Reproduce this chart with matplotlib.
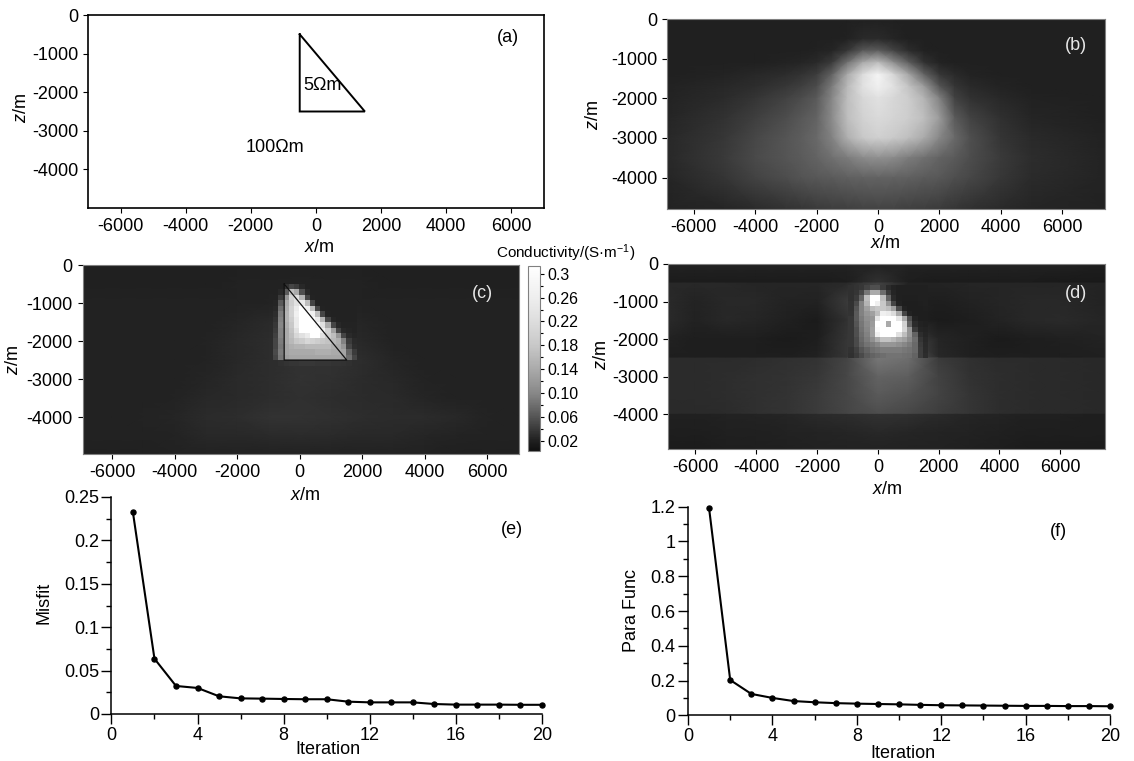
# plot.py
# Six panel figure: resistivity model, inverted conductivity sections, convergence curves.

import numpy as np
import matplotlib
matplotlib.use("Agg")
import matplotlib.pyplot as plt
from matplotlib.cm import ScalarMappable
from matplotlib.colors import LinearSegmentedColormap, Normalize

WIDTH, HEIGHT = 1134, 761

plt.rcParams["font.family"] = ["Liberation Sans", "DejaVu Sans"]
plt.rcParams["font.size"] = 13
plt.rcParams["axes.unicode_minus"] = False
plt.rcParams["mathtext.fontset"] = "custom"
plt.rcParams["mathtext.it"] = "Liberation Sans:italic"
plt.rcParams["mathtext.rm"] = "Liberation Sans"

# Convergence curves
iterations = list(range(1, 21))
misfit = [0.2323, 0.0637, 0.0323, 0.0300, 0.0204, 0.0180, 0.0177, 0.0173, 0.0170, 0.0170,
          0.0142, 0.0134, 0.0134, 0.0134, 0.0115, 0.0108, 0.0108, 0.0108, 0.0106, 0.0106]
para_func = [1.19, 0.203, 0.123, 0.100, 0.082, 0.075, 0.070, 0.067, 0.065, 0.063,
             0.060, 0.058, 0.057, 0.056, 0.055, 0.054, 0.054, 0.053, 0.053, 0.052]

# Model triangle outline
triangle_x = [-500, -500, 1500, -500]
triangle_z = [-500, -2500, -2500, -500]

# Colour bar: value against grey level
bar_values = [0.003, 0.02, 0.06, 0.10, 0.14, 0.18, 0.22, 0.26, 0.313]
bar_levels = [16, 32, 85, 136, 170, 200, 221, 238, 255]
bar_ticks = [0.3, 0.26, 0.22, 0.18, 0.14, 0.10, 0.06, 0.02]
bar_tick_labels = ["0.3", "0.26", "0.22", "0.18", "0.14", "0.10", "0.06", "0.02"]
bar_minor = [0.28, 0.24, 0.20, 0.16, 0.12, 0.08, 0.04]

# The sections below are grey levels
b_x = [-6870, -5000, -4000, -3000, -2500, -2000, -1500, -1000, -500, 0, 500, 1000, 1500, 2000, 2500, 3000, 4000, 5000, 7390]
b_z = [0, -500, -800, -1100, -1400, -1700, -2000, -2500, -3000, -3500, -4000, -4790]
b_levels = [
    [32, 32, 32, 32, 32, 32, 32, 32, 32, 32, 32, 32, 32, 32, 32, 32, 32, 32, 32],
    [32, 32, 32, 32, 32, 32, 32, 34, 42, 44, 38, 32, 32, 32, 32, 32, 32, 32, 32],
    [32, 32, 32, 32, 33, 34, 38, 55, 90, 95, 70, 45, 34, 32, 32, 32, 32, 32, 32],
    [32, 32, 33, 36, 38, 42, 60, 115, 170, 190, 145, 95, 50, 36, 32, 32, 32, 32, 32],
    [33, 36, 40, 46, 52, 62, 100, 170, 220, 245, 215, 165, 100, 55, 42, 36, 33, 32, 32],
    [34, 40, 46, 56, 64, 76, 125, 185, 225, 240, 225, 195, 155, 85, 54, 42, 36, 33, 32],
    [36, 44, 54, 66, 76, 90, 135, 190, 215, 225, 215, 205, 180, 130, 66, 50, 40, 35, 32],
    [38, 50, 64, 78, 88, 100, 140, 190, 210, 218, 212, 205, 190, 155, 92, 68, 48, 38, 33],
    [40, 56, 72, 86, 94, 105, 130, 175, 200, 208, 202, 190, 170, 135, 105, 80, 54, 42, 34],
    [40, 58, 74, 86, 92, 100, 112, 125, 140, 145, 140, 125, 112, 100, 90, 78, 58, 46, 36],
    [38, 54, 68, 78, 84, 88, 92, 96, 98, 100, 98, 96, 92, 88, 80, 72, 56, 44, 36],
    [34, 38, 44, 50, 54, 58, 62, 64, 66, 68, 66, 64, 62, 58, 54, 48, 42, 38, 34],
]

c_back_x = [-6950, -6000, -5000, -4000, -3000, -2000, -1000, 0, 1000, 2000, 3000, 4000, 5000, 6000, 7010]
c_back_z = [0, -500, -1000, -1500, -2000, -2500, -3000, -3500, -4000, -4500, -4970]
c_back_levels = [
    [32, 32, 32, 32, 32, 32, 32, 32, 32, 32, 32, 32, 32, 32, 32],
    [33, 33, 33, 33, 33, 34, 35, 36, 35, 34, 33, 33, 33, 33, 33],
    [34, 34, 34, 34, 34, 34, 36, 38, 36, 34, 34, 34, 34, 34, 34],
    [34, 34, 34, 34, 34, 38, 42, 44, 42, 38, 34, 34, 34, 34, 34],
    [34, 34, 34, 34, 36, 40, 46, 48, 46, 40, 35, 34, 34, 34, 34],
    [34, 34, 34, 34, 36, 40, 46, 50, 50, 46, 38, 34, 34, 34, 34],
    [34, 34, 34, 34, 38, 42, 46, 50, 48, 44, 40, 36, 34, 34, 34],
    [35, 35, 35, 36, 40, 43, 46, 48, 46, 44, 42, 38, 35, 35, 35],
    [35, 35, 36, 38, 44, 46, 50, 50, 48, 46, 44, 44, 40, 36, 35],
    [34, 34, 34, 36, 40, 41, 42, 44, 42, 41, 40, 38, 36, 34, 34],
    [33, 33, 33, 34, 34, 34, 35, 35, 35, 34, 34, 34, 33, 33, 33],
]
c_core_x_start, c_core_x_step = -850, 167
c_core_z_start, c_core_z_step = -500, -143
c_core_levels = [
    [34, 34, 50, 70, 60, 40, 34, 34, 34, 34, 34, 34, 34, 34, 34, 34],
    [34, 40, 90, 190, 170, 80, 40, 34, 34, 34, 34, 34, 34, 34, 34, 34],
    [36, 60, 150, 210, 225, 180, 70, 36, 34, 34, 34, 34, 34, 34, 34, 34],
    [38, 90, 170, 205, 225, 235, 190, 70, 36, 34, 34, 34, 34, 34, 34, 34],
    [40, 110, 175, 210, 235, 255, 240, 190, 70, 36, 34, 34, 34, 34, 34, 34],
    [45, 125, 180, 210, 240, 255, 255, 240, 190, 70, 36, 34, 34, 34, 34, 34],
    [50, 130, 180, 205, 235, 255, 255, 255, 235, 180, 70, 38, 34, 34, 34, 34],
    [55, 135, 175, 200, 235, 255, 255, 255, 250, 225, 170, 70, 40, 36, 36, 36],
    [60, 130, 170, 195, 225, 255, 255, 255, 255, 240, 210, 160, 70, 40, 38, 36],
    [65, 130, 170, 190, 215, 225, 235, 255, 255, 225, 205, 190, 150, 70, 42, 38],
    [70, 125, 170, 185, 200, 205, 215, 210, 205, 200, 195, 185, 175, 130, 60, 42],
    [70, 120, 165, 175, 180, 180, 185, 185, 185, 185, 185, 175, 170, 150, 70, 46],
    [75, 125, 165, 170, 170, 170, 170, 170, 175, 175, 175, 170, 170, 165, 100, 60],
    [70, 120, 160, 165, 165, 165, 165, 165, 165, 165, 165, 165, 165, 160, 110, 70],
    [46, 48, 52, 54, 54, 56, 56, 56, 54, 54, 54, 52, 52, 50, 48, 46],
]

d_back_x = [-6900, -6000, -5000, -4000, -3000, -2000, -1000, 0, 1000, 2000, 3000, 4000, 5000, 6000, 7470]
d_back_z = [0, -500, -510, -1000, -1500, -2000, -2500, -2510, -3000, -3500, -4000, -4010, -4500, -4930]
d_back_levels = [
    [34, 34, 34, 34, 34, 34, 34, 34, 34, 34, 34, 34, 34, 34, 30],
    [28, 28, 28, 28, 28, 28, 30, 50, 30, 28, 28, 28, 28, 26, 26],
    [40, 40, 40, 38, 38, 38, 42, 70, 34, 36, 38, 38, 38, 38, 36],
    [42, 36, 40, 40, 36, 34, 60, 60, 32, 30, 34, 38, 40, 40, 36],
    [42, 34, 40, 38, 32, 28, 50, 60, 34, 28, 30, 36, 40, 42, 38],
    [34, 30, 30, 30, 28, 30, 55, 70, 70, 38, 32, 28, 30, 32, 36],
    [30, 30, 30, 30, 30, 34, 55, 120, 100, 40, 32, 30, 30, 30, 32],
    [44, 44, 44, 46, 48, 52, 70, 120, 110, 60, 48, 44, 44, 42, 40],
    [44, 44, 46, 48, 50, 56, 72, 100, 95, 66, 50, 46, 44, 42, 40],
    [44, 44, 46, 48, 52, 60, 72, 90, 82, 68, 54, 46, 44, 42, 40],
    [42, 42, 44, 48, 52, 60, 70, 78, 72, 62, 54, 46, 44, 42, 40],
    [32, 32, 34, 36, 38, 42, 46, 50, 48, 42, 38, 36, 32, 32, 30],
    [30, 30, 32, 33, 34, 36, 38, 40, 38, 36, 34, 32, 30, 30, 30],
    [28, 28, 30, 31, 32, 34, 35, 36, 35, 34, 32, 30, 28, 28, 28],
]
d_core_x_start, d_core_x_step = -965, 175
d_core_z_start, d_core_z_step = -560, -138.6
d_core_levels = [
    [48, 52, 56, 68, 80, 80, 60, 44, 36, 32, 32, 32, 32, 32, 32],
    [48, 54, 72, 120, 170, 170, 110, 60, 38, 32, 32, 32, 32, 32, 32],
    [48, 60, 100, 190, 255, 255, 190, 100, 42, 32, 31, 31, 31, 32, 32],
    [50, 75, 130, 180, 255, 240, 200, 150, 70, 34, 30, 30, 30, 31, 32],
    [50, 85, 130, 160, 190, 200, 200, 190, 160, 75, 34, 30, 30, 30, 31],
    [52, 90, 130, 150, 160, 190, 240, 235, 220, 170, 70, 34, 30, 30, 30],
    [55, 90, 125, 145, 150, 230, 255, 255, 255, 230, 170, 80, 36, 30, 30],
    [55, 85, 120, 140, 155, 255, 255, 170, 255, 255, 210, 100, 44, 34, 32],
    [55, 80, 115, 135, 160, 250, 255, 255, 255, 255, 215, 150, 60, 38, 36],
    [55, 80, 110, 130, 160, 240, 255, 255, 255, 225, 190, 150, 100, 46, 38],
    [55, 75, 105, 125, 145, 170, 195, 195, 185, 170, 160, 140, 110, 54, 40],
    [55, 75, 100, 115, 125, 135, 150, 150, 150, 145, 135, 125, 105, 58, 42],
    [50, 65, 85, 100, 112, 118, 125, 125, 125, 125, 120, 115, 105, 62, 44],
    [48, 60, 75, 90, 100, 105, 110, 115, 115, 115, 112, 110, 100, 62, 46],
]

x_ticks = [-6000, -4000, -2000, 0, 2000, 4000, 6000]
z_ticks = [0, -1000, -2000, -3000, -4000]
iter_ticks = [0, 4, 8, 12, 16, 20]
iter_minor = [2, 6, 10, 14, 18]
misfit_ticks = [0, 0.05, 0.1, 0.15, 0.2, 0.25]
misfit_tick_labels = ["0", "0.05", "0.1", "0.15", "0.2", "0.25"]
misfit_minor = [0.025, 0.075, 0.125, 0.175, 0.225]
para_ticks = [0, 0.2, 0.4, 0.6, 0.8, 1, 1.2]
para_tick_labels = ["0", "0.2", "0.4", "0.6", "0.8", "1", "1.2"]
para_minor = [0.1, 0.3, 0.5, 0.7, 0.9, 1.1]

# Scale shared by the sections and the colour bar
norm = Normalize(min(bar_values), max(bar_values))
cmap = LinearSegmentedColormap.from_list(
    "cond", [(norm(v), str(g / 255)) for v, g in zip(bar_values, bar_levels)])


def to_conductivity(levels):
    return np.interp(np.asarray(levels, dtype=float), bar_levels, bar_values)


fig = plt.figure(figsize=(WIDTH / 100, HEIGHT / 100), dpi=100)


def axes_px(left, top, right, bottom):
    return fig.add_axes([left / WIDTH, 1 - bottom / HEIGHT, (right - left) / WIDTH, (bottom - top) / HEIGHT])


def label_px(x, y, text, **kwargs):
    fig.text(x / WIDTH, 1 - y / HEIGHT, text, ha="center", va="center", **kwargs)


def style_section(ax, xlim, zlim, edge="#808080"):
    ax.set_xlim(*xlim)
    ax.set_ylim(zlim, 0)
    ax.set_xticks(x_ticks)
    ax.set_yticks(z_ticks)
    ax.tick_params(length=3.6, width=0.8, pad=3.5)
    for spine in ax.spines.values():
        spine.set_color(edge)
        spine.set_linewidth(0.8)


def core_mesh(ax, levels, x0, dx, z0, dz):
    levels = np.asarray(levels)
    xe = x0 + dx * np.arange(levels.shape[1] + 1)
    ze = z0 + dz * np.arange(levels.shape[0] + 1)
    ax.pcolormesh(xe, ze, to_conductivity(levels), cmap=cmap, norm=norm, shading="flat")


def style_curve(ax, yticks, ylabels, yminor, ylim):
    ax.set_xlim(0, 20)
    ax.set_ylim(0, ylim)
    ax.set_xticks(iter_ticks)
    ax.set_xticks(iter_minor, minor=True)
    ax.set_yticks(yticks)
    ax.set_yticklabels(ylabels)
    ax.set_yticks(yminor, minor=True)
    ax.tick_params(which="major", length=7, width=1.0, pad=2)
    ax.tick_params(which="minor", length=3.8, width=1.0)
    ax.spines["top"].set_visible(False)
    ax.spines["right"].set_visible(False)
    ax.spines["left"].set_linewidth(1.1)
    ax.spines["bottom"].set_linewidth(1.1)


# (a) model
ax_a = axes_px(88, 15, 544, 208)
ax_a.plot(triangle_x, triangle_z, color="black", lw=1.4, solid_joinstyle="miter")
style_section(ax_a, (-7000, 7000), -5000, edge="black")
for spine in ax_a.spines.values():
    spine.set_linewidth(1.2)
label_px(322, 85, "5Ωm", fontsize=13)
label_px(275, 148, "100Ωm", fontsize=13)
label_px(508, 37, "(a)", fontsize=13)
label_px(319, 247, "$\\mathit{x}$/m", fontsize=13)
label_px(21, 108, "$\\mathit{z}$/m", fontsize=13, rotation=90)

# (b) smooth section
ax_b = axes_px(667, 19, 1105, 209)
ax_b.pcolormesh(b_x, b_z, to_conductivity(b_levels), cmap=cmap, norm=norm, shading="gouraud")
style_section(ax_b, (-6870, 7390), -4790)
label_px(1076, 45, "(b)", fontsize=13, color="#e6e6e6")
label_px(885, 243, "$\\mathit{x}$/m", fontsize=13)
label_px(593, 115, "$\\mathit{z}$/m", fontsize=13, rotation=90)

# (c) section with the true outline
ax_c = axes_px(82.5, 265, 519, 454)
ax_c.pcolormesh(c_back_x, c_back_z, to_conductivity(c_back_levels), cmap=cmap, norm=norm, shading="gouraud")
core_mesh(ax_c, c_core_levels, c_core_x_start, c_core_x_step, c_core_z_start, c_core_z_step)
ax_c.plot(triangle_x, triangle_z, color="#111111", lw=0.9)
style_section(ax_c, (-6950, 7010), -4970)
label_px(482, 294, "(c)", fontsize=13, color="#e6e6e6")
label_px(305, 495, "$\\mathit{x}$/m", fontsize=13)
label_px(14, 360, "$\\mathit{z}$/m", fontsize=13, rotation=90)

# colour bar
cax = axes_px(528, 266, 540, 451)
cbar = fig.colorbar(ScalarMappable(norm=norm, cmap=cmap), cax=cax)
cbar.set_ticks(bar_ticks, labels=bar_tick_labels)
cbar.ax.set_yticks(bar_minor, minor=True)
cbar.ax.tick_params(which="major", length=3.2, width=0.8, pad=2, labelsize=11.5)
cbar.ax.tick_params(which="minor", length=2, width=0.8)
cbar.outline.set_edgecolor("#808080")
cbar.outline.set_linewidth(0.8)
label_px(566, 253, "Conductivity/(S·m$^{-1}$)", fontsize=11)

# (d) section
ax_d = axes_px(668, 264, 1105, 449)
ax_d.pcolormesh(d_back_x, d_back_z, to_conductivity(d_back_levels), cmap=cmap, norm=norm, shading="gouraud")
core_mesh(ax_d, d_core_levels, d_core_x_start, d_core_x_step, d_core_z_start, d_core_z_step)
style_section(ax_d, (-6900, 7470), -4930)
label_px(1076, 293, "(d)", fontsize=13, color="#e6e6e6")
label_px(887, 490, "$\\mathit{x}$/m", fontsize=13)
label_px(601, 355, "$\\mathit{z}$/m", fontsize=13, rotation=90)

# (e) misfit
ax_e = axes_px(111.4, 497, 542, 714)
ax_e.plot(iterations, misfit, color="black", lw=1.5, marker="o", ms=3.6, clip_on=False)
style_curve(ax_e, misfit_ticks, misfit_tick_labels, misfit_minor, 0.25)
label_px(512, 529, "(e)", fontsize=13)
label_px(328, 749, "Iteration", fontsize=13)
label_px(43.6, 603, "Misfit", fontsize=13, rotation=90)

# (f) parameter function
ax_f = axes_px(688, 506.7, 1110, 715.3)
ax_f.plot(iterations, para_func, color="black", lw=1.5, marker="o", ms=3.6, clip_on=False)
style_curve(ax_f, para_ticks, para_tick_labels, para_minor, 1.2)
label_px(1058, 532, "(f)", fontsize=13)
label_px(903, 754, "Iteration", fontsize=13)
label_px(631, 611, "Para Func", fontsize=13, rotation=90)

fig.savefig("out.png", dpi=100)
plt.close(fig)
